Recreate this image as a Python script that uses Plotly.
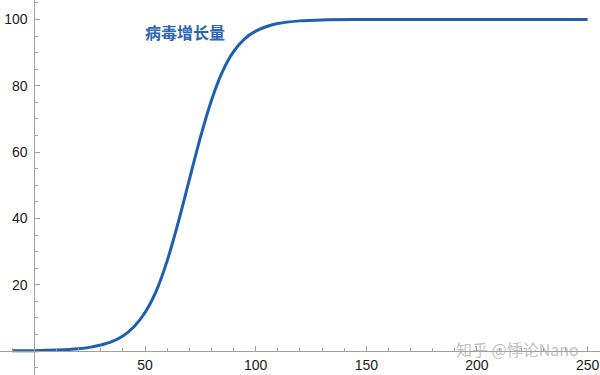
import plotly.graph_objects as go

# Data
t_values = [-10, 0, 10, 20, 25, 30, 35, 40, 45, 50, 55, 60, 65, 70, 75, 80, 85, 90, 95, 100, 105, 110, 120, 130, 150, 200, 250]
growth = [0.05, 0.1, 0.3, 0.7, 1.1, 1.8, 2.8, 4.5, 7.3, 11.6, 18.0, 27.2, 38.8, 51.6, 64.4, 75.6, 84.3, 90.3, 94.2, 96.5, 97.9, 98.8, 99.6, 99.9, 100, 100, 100]

x_major = [50, 100, 150, 200, 250]
x_minor = [-10, 10, 20, 30, 40, 60, 70, 80, 90, 110, 120, 130, 140, 160, 170, 180, 190, 210, 220, 230, 240]
y_major = [20, 40, 60, 80, 100]
y_minor = [-5, 5, 10, 15, 25, 30, 35, 45, 50, 55, 65, 70, 75, 85, 90, 95, 105]

label_text = "病毒增长量"
watermark_text = "知乎 @悸论Nano"

x_range = [-15.54, 255.6]
y_range = [-7.24, 105.9]

line_color = "#1f5fb0"
axis_color = "#a0a0a0"

fig = go.Figure()
fig.add_trace(go.Scatter(
    x=t_values, y=growth, mode="lines",
    line=dict(color=line_color, width=3, shape="spline", smoothing=1.0),
    showlegend=False, hoverinfo="skip", cliponaxis=False,
))

y_pos = (0 - y_range[0]) / (y_range[1] - y_range[0])
x_pos = (0 - x_range[0]) / (x_range[1] - x_range[0])

tick_font = dict(family="Liberation Sans, Arial, sans-serif", size=14, color="#1a1a1a")

fig.update_layout(
    width=600, height=375,
    margin=dict(l=0, r=0, t=0, b=0),
    paper_bgcolor="white", plot_bgcolor="white",
    xaxis=dict(
        range=x_range, anchor="free", position=y_pos,
        showgrid=False, zeroline=False, showline=True, linecolor=axis_color, linewidth=1,
        tickmode="array", tickvals=x_major, ticks="inside", ticklen=5, tickcolor=axis_color,
        tickfont=tick_font, ticklabelstandoff=1,
        minor=dict(tickmode="array", tickvals=x_minor, ticks="inside", ticklen=3, tickcolor=axis_color, showgrid=False),
        automargin=False,
    ),
    yaxis=dict(
        range=y_range, anchor="free", position=x_pos,
        showgrid=False, zeroline=False, showline=True, linecolor=axis_color, linewidth=1,
        tickmode="array", tickvals=y_major, ticks="inside", ticklen=5, tickcolor=axis_color,
        tickfont=tick_font, ticklabelstandoff=4,
        minor=dict(tickmode="array", tickvals=y_minor, ticks="inside", ticklen=3, tickcolor=axis_color, showgrid=False),
        automargin=False,
    ),
)

fig.add_annotation(
    x=0.308, y=0.915, xref="paper", yref="paper", xanchor="center", yanchor="middle",
    text="<b>" + label_text + "</b>", showarrow=False,
    font=dict(family="Noto Sans CJK SC", size=16, color="#2a66b4"),
)
fig.add_annotation(
    x=0.862, y=0.07, xref="paper", yref="paper", xanchor="center", yanchor="middle",
    text=watermark_text, showarrow=False,
    font=dict(family="Noto Sans CJK SC", size=16, color="rgba(165,165,165,0.7)"),
)

fig.write_html("out.html")
